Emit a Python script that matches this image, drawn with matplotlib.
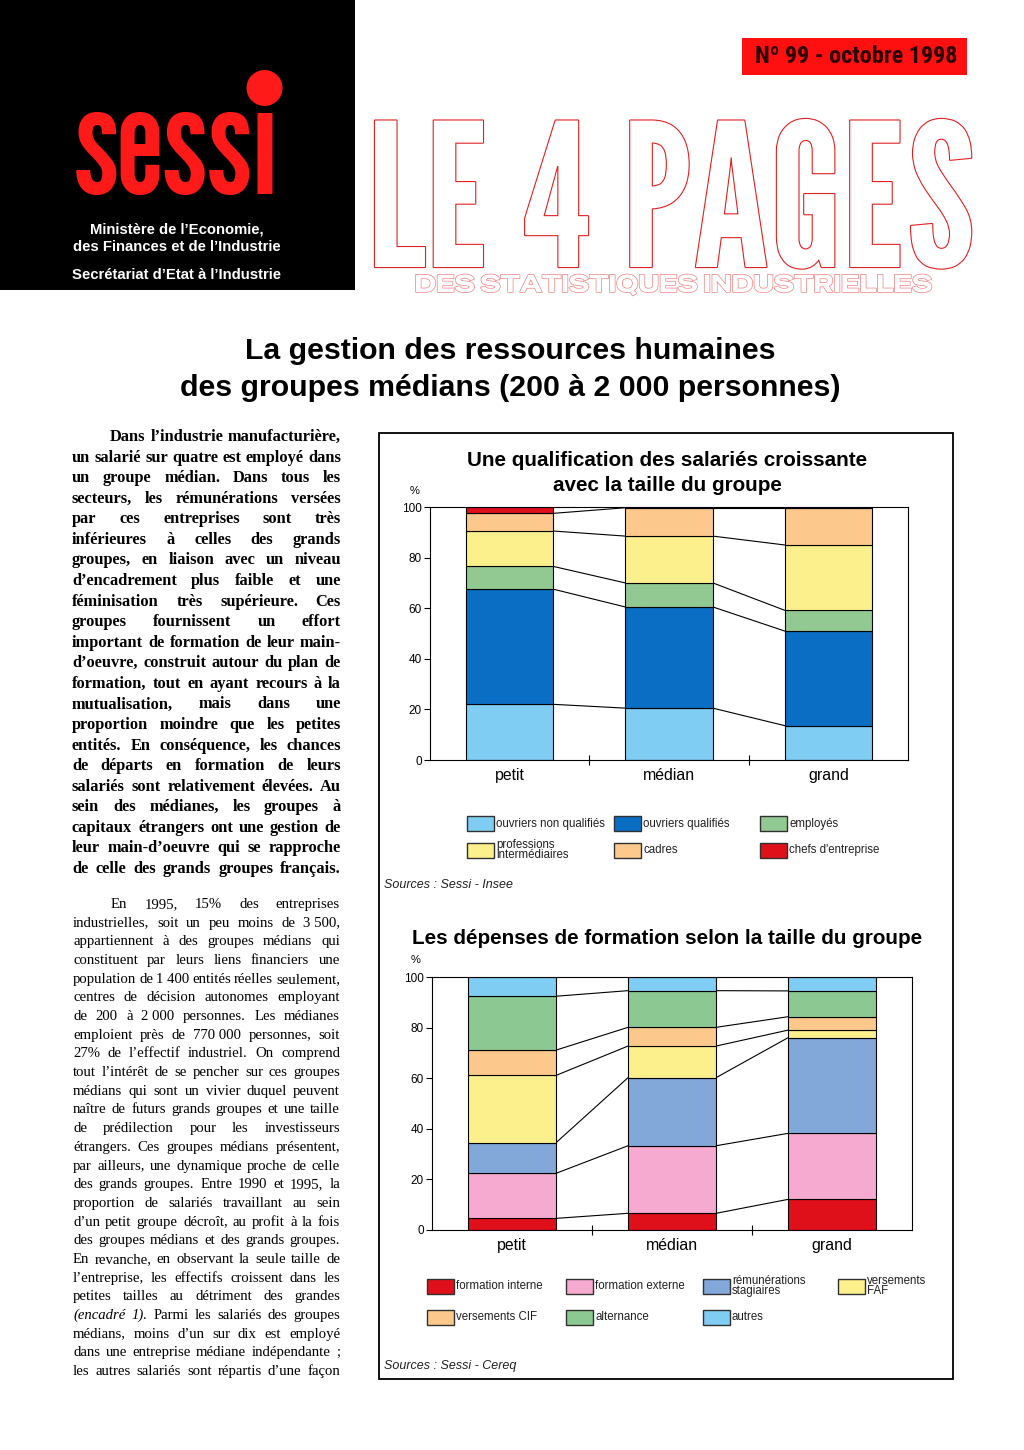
import matplotlib
matplotlib.use("Agg")
import matplotlib.pyplot as plt
from matplotlib import font_manager as fm
from matplotlib.patches import Rectangle, Ellipse
import matplotlib.patheffects as pe
import numpy as np

## --- Page geometry (pixels) ---
W, H = 1024, 1450

def fx(x): return x / W
def fy(y): return 1 - y / H

## --- Fonts ---
names = {f.name for f in fm.fontManager.ttflist}

def pick(cands, default):
    return next((n for n in cands if n in names), default)

SANS = "Liberation Sans"
SERIF = "Liberation Serif"
NARROW_BOLD = pick(["Roboto Condensed", "Fira Sans Condensed", "Barlow Semi Condensed"], SANS)
TALL = pick(["League Gothic", "Oswald", "Fira Sans Extra Condensed"], SANS)
WIDE = pick(["Special Gothic Expanded One", "Encode Sans Expanded"], SANS)

## --- Chart data ---
GROUPS = ["petit", "médian", "grand"]

QUALIF_LABELS = ["ouvriers non qualifiés", "ouvriers qualifiés", "employés",
                 "professions\nintermédiaires", "cadres", "chefs d'entreprise"]
QUALIF_COLORS = ["#80cdf3", "#0a6fc4", "#92c892", "#fcf08c", "#fcc88c", "#e0101a"]
QUALIF_PETIT = [22.0, 45.5, 9.0, 14.0, 7.0, 2.5]
QUALIF_MEDIAN = [20.5, 40.0, 9.5, 18.5, 11.2, 0.3]
QUALIF_GRAND = [13.6, 37.4, 8.2, 25.8, 14.7, 0.3]

FORM_LABELS = ["formation interne", "formation externe", "rémunérations\nstagiaires",
               "versements\nFAF", "versements CIF", "alternance", "autres"]
FORM_COLORS = ["#e0101a", "#f6aacf", "#82a8da", "#fcf08c", "#fcc88c", "#8cc892", "#80cdf3"]
FORM_PETIT = [4.6, 17.8, 12.1, 26.6, 10.0, 21.3, 7.6]
FORM_MEDIAN = [6.6, 26.7, 26.9, 12.5, 7.4, 14.5, 5.4]
FORM_GRAND = [12.1, 26.1, 37.8, 3.0, 5.3, 10.2, 5.5]

## --- Text of the left column ---
PARA1 = [
    "Dans l’industrie manufacturière,",
    "un salarié sur quatre est employé dans",
    "un groupe médian. Dans tous les",
    "secteurs, les rémunérations versées",
    "par ces entreprises sont très",
    "inférieures à celles des grands",
    "groupes, en liaison avec un niveau",
    "d’encadrement plus faible et une",
    "féminisation très supérieure. Ces",
    "groupes fournissent un effort",
    "important de formation de leur main-",
    "d’oeuvre, construit autour du plan de",
    "formation, tout en ayant recours à la",
    "mutualisation, mais dans une",
    "proportion moindre que les petites",
    "entités. En conséquence, les chances",
    "de départs en formation de leurs",
    "salariés sont relativement élevées. Au",
    "sein des médianes, les groupes à",
    "capitaux étrangers ont une gestion de",
    "leur main-d’oeuvre qui se rapproche",
    "de celle des grands groupes français.",
]
PARA2 = [
    "En 1995, 15% des entreprises",
    "industrielles, soit un peu moins de 3\u00a0500,",
    "appartiennent à des groupes médians qui",
    "constituent par leurs liens financiers une",
    "population de 1\u00a0400 entités réelles seulement,",
    "centres de décision autonomes employant",
    "de 200 à 2\u00a0000 personnes. Les médianes",
    "emploient près de 770\u00a0000 personnes, soit",
    "27% de l’effectif industriel. On comprend",
    "tout l’intérêt de se pencher sur ces groupes",
    "médians qui sont un vivier duquel peuvent",
    "naître de futurs grands groupes et une taille",
    "de prédilection pour les investisseurs",
    "étrangers. Ces groupes médians présentent,",
    "par ailleurs, une dynamique proche de celle",
    "des grands groupes. Entre 1990 et 1995, la",
    "proportion de salariés travaillant au sein",
    "d’un petit groupe décroît, au profit à la fois",
    "des groupes médians et des grands groupes.",
    "En revanche, en observant la seule taille de",
    "l’entreprise, les effectifs croissent dans les",
    "petites tailles au détriment des grandes",
    "(encadré 1). Parmi les salariés des groupes",
    "médians, moins d’un sur dix est employé",
    "dans une entreprise médiane indépendante ;",
    "les autres salariés sont répartis d’une façon",
]
ITALIC_WORDS = {"(encadré", "1)."}


fig = plt.figure(figsize=(W / 100, H / 100), dpi=100)
fig.patch.set_facecolor("white")
renderer = fig.canvas.get_renderer()


def width_of(t):
    return t.get_window_extent(renderer).width


def fit_text(s, x0, x1, y, size0=40, max_size=None, ha="left", **kw):
    """Text whose width spans x0..x1 (pixels), baseline at y."""
    t = fig.text(fx(x0), fy(y), s, fontsize=size0, ha="left", va="baseline", **kw)
    size = size0 * (x1 - x0) / width_of(t)
    if max_size is not None:
        size = min(size, max_size)
    t.set_fontsize(size)
    if ha == "center":
        t.set_ha("center")
        t.set_x(fx((x0 + x1) / 2))
    return t


def paragraph(lines, left, right, base0, step, size, weight, indent):
    """Justified block of text, one text per word."""
    for i, line in enumerate(lines):
        words = [w for w in line.split(" ") if w]
        start = left + (indent if i == 0 else 0)
        fs = size
        while True:
            arts = [fig.text(0, 0, w, fontsize=fs, family=SERIF, weight=weight,
                             style="italic" if w in ITALIC_WORDS else "normal",
                             ha="left", va="baseline") for w in words]
            widths = [width_of(a) for a in arts]
            gap = (right - start - sum(widths)) / max(len(words) - 1, 1)
            if gap >= 2.5 or fs < size * 0.8:
                break
            for a in arts:
                a.remove()
            fs -= 0.15
        x = start
        for a, w in zip(arts, widths):
            a.set_position((fx(x), fy(base0 + i * step)))
            x += w + gap


## --- Header ---
fig.add_artist(Rectangle((0, fy(290)), fx(355), 290 / H, transform=fig.transFigure,
                         facecolor="black", edgecolor="none"))
logo = fit_text("sessı", 74, 280, 194, family=TALL, color="#ff1a1a")
bb = logo.get_window_extent(renderer)
em = logo.get_fontsize() * 100 / 72
fig.add_artist(Ellipse((fx(bb.x1 - 0.1 * em), fy(88)), 36 / W, 36 / H, transform=fig.transFigure,
                       facecolor="#ff1a1a", edgecolor="none"))
for txt, y in [("Ministère de l’Economie,", 234), ("des Finances et de l’Industrie", 251),
               ("Secrétariat d’Etat à l’Industrie", 279)]:
    fig.text(fx(177), fy(y), txt, color="white", fontsize=10.7, family=SANS, weight="bold",
             ha="center", va="baseline")

fig.add_artist(Rectangle((fx(742), fy(75)), 225 / W, 37 / H, transform=fig.transFigure,
                         facecolor="#ff1010", edgecolor="none"))
fit_text("Nº 99 - octobre 1998", 755, 958, 63, family=NARROW_BOLD, weight="bold",
         color="#2a0000")

fit_text("LE 4 PAGES", 367, 975, 267, family=TALL, color="white",
         path_effects=[pe.withStroke(linewidth=1.6, foreground="#e02020")])
fit_text("DES STATISTIQUES INDUSTRIELLES", 368, 977, 292, max_size=17.5, ha="center",
         family=WIDE, color="white",
         path_effects=[pe.withStroke(linewidth=1.0, foreground="#f08080")])

## --- Page title ---
fig.text(fx(510), fy(359), "La gestion des ressources humaines", fontsize=21.8,
         family=SANS, weight="bold", ha="center", va="baseline")
fig.text(fx(510), fy(396), "des groupes médians (200 à 2\u00a0000 personnes)", fontsize=21.8,
         family=SANS, weight="bold", ha="center", va="baseline")

## --- Left column ---
paragraph(PARA1, 72, 341, 441, 20.57, 11.8, "bold", 38)
paragraph(PARA2, 73, 340, 908, 18.68, 10.6, "normal", 38)

## --- Charts frame ---
fig.add_artist(Rectangle((fx(379), fy(1379)), 574 / W, 946 / H, transform=fig.transFigure,
                         facecolor="none", edgecolor="black", linewidth=1.3))


def stacked(ax, series, colors):
    table = np.array(series)  # groups x categories
    x = np.arange(len(GROUPS))
    bw = 0.55
    bottoms = np.zeros(len(GROUPS))
    ncat = table.shape[1]
    for k in range(ncat):
        ax.bar(x, table[:, k], bw, bottom=bottoms, color=colors[k],
               edgecolor="black", linewidth=0.8, zorder=2)
        bottoms = bottoms + table[:, k]
        if k < ncat - 1:
            for i in range(len(x) - 1):
                ax.plot([x[i] + bw / 2, x[i + 1] - bw / 2], [bottoms[i], bottoms[i + 1]],
                        color="black", linewidth=0.8, zorder=1)
    ax.set_xlim(-0.5, 2.5)
    ax.set_ylim(0, 100)
    ax.set_yticks(range(0, 101, 20))
    ax.tick_params(axis="y", labelsize=8.5, length=4, width=0.8, pad=2)
    ax.set_xticks(x)
    ax.set_xticklabels(GROUPS, fontsize=11.4, family=SANS)
    ax.tick_params(axis="x", length=0, pad=6)
    ax.set_xticks([0.5, 1.5], minor=True)
    ax.tick_params(axis="x", which="minor", length=7, direction="inout", width=0.8)
    for s in ax.spines.values():
        s.set_linewidth(0.8)
    for lab in ax.get_yticklabels():
        lab.set_family(SANS)


def legend(labels, colors, cols_x, rows_y, ncol):
    for i, (lab, col) in enumerate(zip(labels, colors)):
        x = cols_x[i % ncol]
        y = rows_y[i // ncol]
        fig.add_artist(Rectangle((fx(x), fy(y + 7.5)), 27 / W, 15 / H, transform=fig.transFigure,
                                 facecolor=col, edgecolor="#303030", linewidth=1.0))
        fig.text(fx(x + 29), fy(y), lab, fontsize=8.3, family=SANS, ha="left",
                 va="center", linespacing=0.8, color="#202020")


# Chart 1
fig.text(fx(667), fy(466), "Une qualification des salariés croissante", fontsize=14.85,
         family=SANS, weight="bold", ha="center", va="baseline")
fig.text(fx(667), fy(491), "avec la taille du groupe", fontsize=14.85,
         family=SANS, weight="bold", ha="center", va="baseline")
ax1 = fig.add_axes([fx(430), fy(760), 478 / W, 253 / H])
stacked(ax1, [QUALIF_PETIT, QUALIF_MEDIAN, QUALIF_GRAND], QUALIF_COLORS)
fig.text(fx(415), fy(491), "%", fontsize=8, family=SANS, ha="center", va="center")
legend(QUALIF_LABELS, QUALIF_COLORS, [467, 614, 760], [824, 850], 3)
fig.text(fx(384), fy(885), "Sources : Sessi - Insee", fontsize=9, family=SANS,
         style="italic", ha="left", va="center", color="#202020")

# Chart 2
fig.text(fx(667), fy(944), "Les dépenses de formation selon la taille du groupe", fontsize=14.85,
         family=SANS, weight="bold", ha="center", va="baseline")
ax2 = fig.add_axes([fx(432), fy(1230), 480 / W, 253 / H])
stacked(ax2, [FORM_PETIT, FORM_MEDIAN, FORM_GRAND], FORM_COLORS)
fig.text(fx(416), fy(960), "%", fontsize=8, family=SANS, ha="center", va="center")
legend(FORM_LABELS, FORM_COLORS, [427, 566, 703, 838], [1286, 1317], 4)
fig.text(fx(384), fy(1366), "Sources : Sessi - Cereq", fontsize=9, family=SANS,
         style="italic", ha="left", va="center", color="#202020")

fig.savefig("out.png", dpi=100)
